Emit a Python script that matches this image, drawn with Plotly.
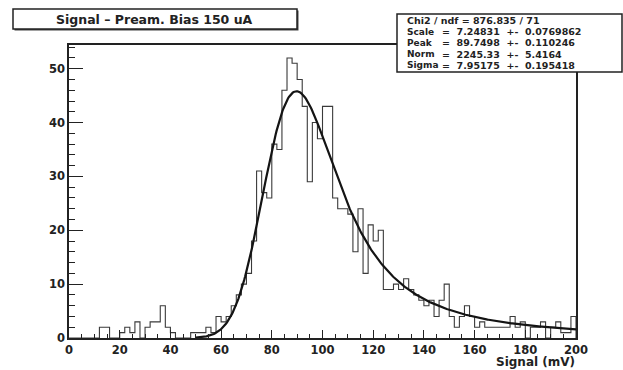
import numpy as np
import plotly.graph_objects as go

# ---- histogram: 100 bins of 2 mV from 0 to 200 mV ----
bin_low = list(range(0, 200, 2))
counts = [
    0, 0, 0, 0, 0, 0, 2, 2, 0, 0,          # 0-18
    1, 2, 1, 3, 0, 2, 3, 3, 6, 2,          # 20-38
    1, 0, 0, 0, 1, 1, 1, 2, 1, 4,          # 40-58
    3, 4, 6, 8, 10, 12, 18, 31, 27, 26,    # 60-78
    36, 35, 46, 52, 51, 48, 43, 29, 40, 37,  # 80-98
    43, 43, 26, 24, 24, 23, 16, 24, 12, 21,  # 100-118
    18, 20, 9, 9, 10, 9, 11, 9, 8, 7,      # 120-138
    6, 7, 4, 7, 10, 4, 2, 4, 6, 4,         # 140-158
    2, 3, 2, 2, 2, 2, 2, 4, 2, 3,          # 160-178
    0, 2, 2, 3, 0, 2, 3, 1, 1, 4,          # 180-198
]
bin_width = 2

# ---- fit result (Landau convoluted with Gaussian) ----
par_names = ["Scale", "Peak", "Norm", "Sigma"]
par_values = [7.24831, 89.7498, 2245.33, 7.95175]
par_errors = [0.0769862, 0.110246, 5.4164, 0.195418]
chi2, ndf = 876.835, 71
fit_range = (50.0, 200.0)

title_text = "Signal – Pream. Bias 150 uA"
x_title = "Signal (mV)"
x_ticks = list(range(0, 201, 20))
y_ticks = list(range(0, 51, 10))


def denlan(v):
    """CERNLIB DENLAN approximation of the Landau density."""
    v = np.asarray(v, dtype=float)
    out = np.zeros_like(v)
    p1 = [0.4259894875, -0.1249762550, 0.03984243700, -0.006298287635, 0.001511162253]
    q1 = [1.0, -0.3388260629, 0.09594393323, -0.01608042283, 0.003778942063]
    p2 = [0.1788541609, 0.1173957403, 0.01488850518, -0.001394989411, 0.0001283617211]
    q2 = [1.0, 0.7428795082, 0.3153932961, 0.06694219548, 0.008790609714]
    p3 = [0.1788544503, 0.09359161662, 0.006325387654, 0.00006611667319, -0.000002031049101]
    q3 = [1.0, 0.6097809921, 0.2560616665, 0.04746722384, 0.006957301675]
    p4 = [0.9874054407, 118.6723273, 849.2794360, -743.7792444, 427.0262186]
    q4 = [1.0, 106.8615961, 337.6496214, 2016.712389, 1597.063511]
    p5 = [1.003675074, 167.5702434, 4789.711289, 21217.86767, -22324.94910]
    q5 = [1.0, 156.9424537, 3745.310488, 9834.698876, 66924.28357]
    a1 = [0.04166666667, -0.01996527778, 0.02709538966]

    def poly(c, t):
        return c[0] + (c[1] + (c[2] + (c[3] + c[4] * t) * t) * t) * t

    m = (v >= -5.5) & (v < -1)
    if m.any():
        t = v[m]
        u = np.exp(-t - 1)
        out[m] = np.exp(-u) * np.sqrt(u) * poly(p1, t) / poly(q1, t)
    m = v < -5.5
    if m.any():
        u = np.exp(v[m] + 1.0)
        ok = u > 1e-10
        r = np.zeros_like(u)
        uu = u[ok]
        r[ok] = 0.3989422803 * (np.exp(-1 / uu) / np.sqrt(uu)) * (1 + (a1[0] + (a1[1] + a1[2] * uu) * uu) * uu)
        out[m] = r
    m = (v >= -1) & (v < 1)
    out[m] = poly(p2, v[m]) / poly(q2, v[m])
    m = (v >= 1) & (v < 5)
    out[m] = poly(p3, v[m]) / poly(q3, v[m])
    m = (v >= 5) & (v < 12)
    u = 1 / v[m]
    out[m] = u * u * poly(p4, u) / poly(q4, u)
    m = (v >= 12) & (v < 50)
    u = 1 / v[m]
    out[m] = u * u * poly(p5, u) / poly(q5, u)
    m = v >= 50
    out[m] = 1.0 / v[m] ** 2
    return out


def langaus_shape(x, width, loc, area, gsigma, nsteps=100, sc=5.0):
    step = 2 * sc * gsigma / nsteps
    offs = -sc * gsigma + (np.arange(nsteps) + 0.5) * step
    xx = x[:, None] + offs[None, :]
    fland = denlan((xx - loc) / width) / width
    g = np.exp(-0.5 * (offs / gsigma) ** 2)
    return area * step * (fland * g[None, :]).sum(axis=1) / (np.sqrt(2 * np.pi) * gsigma)


def langaus(x, width, peak, area, gsigma):
    # place the convolution so that its maximum sits at the fitted Peak
    probe = np.linspace(peak - 20, peak + 20, 4001)
    trial = langaus_shape(probe, width, peak, area, gsigma)
    offset = peak - probe[np.argmax(trial)]
    return langaus_shape(x, width, peak + offset, area, gsigma)


# plot area in pixels (623 x 370 canvas)
L, R, T, B = 69, 47, 45, 32
W, H = 623, 370
PW, PH = W - L - R, H - T - B


def pxx(x):
    return (x - L) / PW


def pxy(y):
    return (H - B - y) / PH


ink = "#222222"
fig = go.Figure()

# histogram outline
x_step = bin_low + [bin_low[-1] + bin_width, bin_low[-1] + bin_width]
y_step = counts + [counts[-1], 0]
fig.add_trace(go.Scatter(x=x_step, y=y_step, mode="lines", line_shape="hv",
                         line=dict(color="#3a3a3a", width=1.1), hoverinfo="skip"))

# fitted curve
xf = np.linspace(fit_range[0], fit_range[1], 401)
yf = langaus(xf, *par_values)
fig.add_trace(go.Scatter(x=xf, y=yf, mode="lines",
                         line=dict(color="#141414", width=2.2), hoverinfo="skip"))

axis_common = dict(showgrid=False, zeroline=False, showline=True, mirror=True,
                   linecolor=ink, linewidth=1.5, ticks="inside", tickcolor=ink,
                   tickfont=dict(family="DejaVu Sans", size=11.5, color=ink, weight="bold"))

fig.update_xaxes(range=[0, 200], tickvals=x_ticks, ticklen=8, tickwidth=1.3,
                 minor=dict(dtick=5, tick0=0, ticklen=4, ticks="inside", tickcolor=ink, tickwidth=1),
                 ticklabelstandoff=0, **axis_common)
fig.update_yaxes(range=[0, 54.4], tickvals=y_ticks, ticklen=14, tickwidth=1.3,
                 minor=dict(dtick=2, tick0=0, ticklen=6, ticks="inside", tickcolor=ink, tickwidth=1),
                 ticklabelstandoff=0, **axis_common)

shapes = []
annotations = []

# title box with a small drop shadow
tb = (13, 9, 297, 29)
shapes.append(dict(type="rect", xref="paper", yref="paper",
                   x0=pxx(tb[0] + 1.5), x1=pxx(tb[2] + 1.5), y0=pxy(tb[3] + 1.5), y1=pxy(tb[1] + 1.5),
                   line=dict(width=0), fillcolor="#444444", layer="above"))
shapes.append(dict(type="rect", xref="paper", yref="paper",
                   x0=pxx(tb[0]), x1=pxx(tb[2]), y0=pxy(tb[3]), y1=pxy(tb[1]),
                   line=dict(color=ink, width=1.5), fillcolor="white", layer="above"))
annotations.append(dict(text=title_text, xref="paper", yref="paper",
                        x=pxx(154), y=pxy(19.5), xanchor="center", yanchor="middle",
                        showarrow=False,
                        font=dict(family="DejaVu Sans", size=12.5, color=ink, weight="bold")))

# statistics box
sb = (397, 14, 622, 72)
shapes.append(dict(type="rect", xref="paper", yref="paper",
                   x0=pxx(sb[0]), x1=pxx(sb[2]), y0=pxy(sb[3]), y1=pxy(sb[1]),
                   line=dict(color=ink, width=1.5), fillcolor="white", layer="above"))
stat_font = dict(family="DejaVu Sans", size=9.5, color=ink, weight="bold")
name_font = dict(family="DejaVu Sans", size=9, color=ink, weight="bold")
line_y = [20.7, 31.8, 43.0, 54.0, 65.0]
annotations.append(dict(text=f"Chi2 / ndf = {chi2:g} / {ndf}", xref="paper", yref="paper",
                        x=pxx(405), y=pxy(line_y[0]), xanchor="left", yanchor="middle",
                        showarrow=False, font=stat_font))
for i, (n, v, e) in enumerate(zip(par_names, par_values, par_errors)):
    annotations.append(dict(text=n, xref="paper", yref="paper",
                            x=pxx(405), y=pxy(line_y[i + 1]), xanchor="left", yanchor="middle",
                            showarrow=False, font=name_font))
    annotations.append(dict(text=f"=  {v:g}  +-  {e:g}", xref="paper", yref="paper",
                            x=pxx(440), y=pxy(line_y[i + 1]), xanchor="left", yanchor="middle",
                            showarrow=False, font=stat_font))

# x axis title at the right end, below the tick labels
annotations.append(dict(text=x_title, xref="paper", yref="paper",
                        x=1.0, y=pxy(370), xanchor="right", yanchor="bottom", showarrow=False,
                        borderpad=0,
                        font=dict(family="DejaVu Sans", size=12, color=ink, weight="bold")))

fig.update_layout(width=W, height=H, margin=dict(l=L, r=R, t=T, b=B),
                  paper_bgcolor="white", plot_bgcolor="white", showlegend=False,
                  shapes=shapes, annotations=annotations)

fig.write_html("out.html")
